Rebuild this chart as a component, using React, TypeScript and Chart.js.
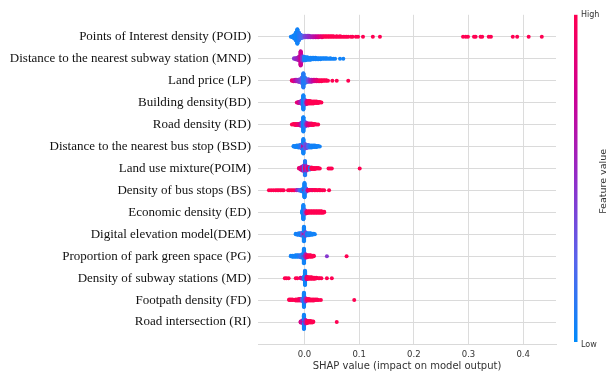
import React, { useEffect, useRef } from 'react';
import { Chart, registerables } from 'chart.js';

Chart.register(...registerables);

// ---------- DATA ----------
const FEATURES = [
  'Points of Interest density (POID)',
  'Distance to the nearest subway station (MND)',
  'Land price (LP)',
  'Building density(BD)',
  'Road density (RD)',
  'Distance to the nearest bus stop (BSD)',
  'Land use mixture(POIM)',
  'Density of bus stops (BS)',
  'Economic density (ED)',
  'Digital elevation model(DEM)',
  'Proportion of park green space (PG)',
  'Density of subway stations (MD)',
  'Footpath density (FD)',
  'Road intersection (RI)',
];

const X_TICKS = [0, 0.1, 0.2, 0.3, 0.4];
const X_TITLE = 'SHAP value (impact on model output)';
const CBAR_LOW = 'Low';
const CBAR_HIGH = 'High';
const CBAR_TITLE = 'Feature value';

// SHAP values (x), number of samples at that value, and normalised feature value (0 = low, 1 = high)
const POID_SHAP = [-0.025, -0.022, -0.019, -0.016, -0.013, -0.010, -0.007, -0.004, -0.001, 0.002, 0.005, 0.008, 0.011, 0.014, 0.017, 0.020, 0.023, 0.026, 0.029, 0.032, 0.035, 0.038, 0.041, 0.044, 0.047, 0.050, 0.053, 0.056, 0.059, 0.062, 0.065, 0.068, 0.071, 0.074, 0.077, 0.080, 0.085, 0.088, 0.094, 0.098, 0.107, 0.125, 0.138, 0.290, 0.295, 0.299, 0.310, 0.313, 0.322, 0.325, 0.337, 0.341, 0.381, 0.389, 0.410, 0.434];
const POID_COUNT = [1, 3, 7, 16, 30, 16, 8, 5, 4, 4, 4, 4, 3, 3, 3, 3, 3, 3, 2, 3, 2, 2, 2, 2, 2, 2, 2, 1, 2, 1, 2, 1, 1, 1, 1, 1, 1, 1, 1, 1, 1, 1, 1, 1, 1, 1, 1, 1, 1, 1, 1, 1, 1, 1, 1, 1];
const POID_FEAT = [0.05, 0.05, 0.05, 0.05, 0.05, 0.1, 0.15, 0.2, 0.3, 0.4, 0.45, 0.5, 0.55, 0.6, 0.65, 0.7, 0.75, 0.8, 0.85, 0.9, 0.95, 1, 1, 1, 1, 1, 1, 1, 1, 1, 1, 1, 1, 1, 1, 1, 1, 1, 1, 1, 1, 1, 1, 1, 1, 1, 1, 1, 1, 1, 1, 1, 1, 1, 1, 1];

const MND_SHAP = [-0.019, -0.016, -0.013, -0.010, -0.007, -0.004, -0.001, 0.002, 0.005, 0.008, 0.011, 0.014, 0.017, 0.020, 0.023, 0.026, 0.029, 0.032, 0.035, 0.038, 0.041, 0.044, 0.047, 0.050, 0.053, 0.056, 0.065, 0.071];
const MND_COUNT = [2, 3, 5, 8, 30, 10, 8, 7, 6, 5, 5, 4, 4, 4, 3, 3, 3, 2, 2, 2, 2, 1, 2, 1, 1, 1, 1, 1];
const MND_FEAT = [0.45, 0.5, 0.55, 0.6, 0.75, 0.5, 0.1, 0.05, 0.05, 0.05, 0.05, 0.05, 0.05, 0.05, 0.05, 0.05, 0.05, 0.05, 0.05, 0.05, 0.05, 0.05, 0.05, 0.05, 0.05, 0.05, 0.05, 0.05];

const LP_SHAP = [-0.023, -0.020, -0.017, -0.014, -0.011, -0.008, -0.005, -0.002, 0.001, 0.004, 0.007, 0.010, 0.013, 0.016, 0.019, 0.022, 0.025, 0.028, 0.031, 0.034, 0.037, 0.040, 0.043, 0.051, 0.059, 0.080];
const LP_COUNT = [2, 3, 4, 4, 5, 7, 12, 30, 12, 7, 6, 5, 5, 4, 4, 4, 3, 3, 3, 2, 2, 2, 1, 1, 1, 1];
const LP_FEAT = [0.9, 0.85, 0.7, 0.6, 0.5, 0.45, 0.3, 0.1, 0.1, 0.15, 0.35, 0.5, 0.6, 0.7, 0.8, 0.85, 0.9, 0.95, 1, 1, 1, 1, 1, 1, 1, 1];

const BD_SHAP = [-0.014, -0.011, -0.008, -0.005, -0.002, 0.001, 0.004, 0.007, 0.010, 0.013, 0.016, 0.019, 0.022, 0.025, 0.028, 0.031];
const BD_COUNT = [1, 3, 4, 8, 30, 10, 7, 6, 6, 5, 5, 4, 4, 3, 2, 1];
const BD_FEAT = [0.9, 0.8, 0.65, 0.4, 0.05, 0.2, 0.8, 0.95, 1, 1, 1, 1, 1, 1, 1, 1];

const RD_SHAP = [-0.023, -0.020, -0.017, -0.014, -0.011, -0.008, -0.005, -0.002, 0.001, 0.004, 0.007, 0.010, 0.013, 0.016, 0.019, 0.022, 0.025];
const RD_COUNT = [1, 2, 3, 3, 3, 5, 8, 30, 10, 6, 5, 4, 4, 3, 2, 1, 1];
const RD_FEAT = [1, 1, 1, 0.95, 0.9, 0.8, 0.4, 0.05, 0.15, 0.6, 0.8, 0.9, 0.95, 1, 1, 1, 1];

const BSD_SHAP = [-0.020, -0.017, -0.014, -0.011, -0.008, -0.005, -0.002, -0.002, 0.001, 0.004, 0.007, 0.010, 0.013, 0.016, 0.019, 0.022, 0.025, 0.028];
const BSD_COUNT = [2, 3, 4, 5, 6, 9, 10, 20, 10, 7, 6, 5, 5, 4, 4, 3, 2, 1];
const BSD_FEAT = [0.05, 0.05, 0.05, 0.05, 0.1, 0.2, 0.7, 0.05, 0.3, 0.4, 0.2, 0.1, 0.05, 0.05, 0.05, 0.05, 0.05, 0.05];

const POIM_SHAP = [-0.010, -0.007, -0.004, -0.001, 0.001, 0.001, 0.001, 0.004, 0.007, 0.010, 0.010, 0.013, 0.016, 0.019, 0.022, 0.025, 0.028, 0.044, 0.047, 0.050, 0.101];
const POIM_COUNT = [2, 5, 9, 12, 12, 10, 8, 9, 6, 3, 2, 4, 3, 3, 2, 2, 1, 1, 1, 1, 1];
const POIM_FEAT = [0.9, 0.85, 0.7, 0.2, 1, 0.6, 0.1, 0.5, 0.9, 1, 0.05, 1, 1, 1, 1, 1, 1, 1, 1, 1, 1];

const BS_SHAP = [-0.065, -0.061, -0.057, -0.053, -0.050, -0.047, -0.044, -0.041, -0.038, -0.030, -0.027, -0.024, -0.021, -0.018, -0.014, -0.011, -0.008, -0.005, -0.002, 0.000, 0.000, 0.003, 0.006, 0.009, 0.012, 0.015, 0.018, 0.021, 0.024, 0.027, 0.030, 0.033, 0.036, 0.045];
const BS_COUNT = [1, 1, 1, 1, 1, 1, 1, 1, 1, 1, 1, 1, 1, 1, 2, 2, 3, 5, 8, 6, 24, 8, 3, 2, 2, 2, 2, 2, 1, 2, 1, 1, 1, 1];
const BS_FEAT = [1, 1, 1, 1, 1, 1, 1, 1, 1, 1, 1, 1, 1, 1, 0.6, 0.4, 0.2, 0.1, 0.05, 0.6, 0.05, 0.2, 0.8, 1, 1, 0.9, 1, 1, 1, 1, 1, 1, 1, 1];

const ED_SHAP = [-0.004, -0.002, 0.001, 0.004, 0.007, 0.010, 0.013, 0.016, 0.019, 0.022, 0.025, 0.028, 0.031, 0.034, 0.036];
const ED_COUNT = [6, 30, 8, 5, 4, 4, 4, 4, 4, 4, 4, 4, 4, 3, 2];
const ED_FEAT = [0.05, 0.05, 0.3, 0.9, 1, 1, 1, 1, 1, 1, 1, 1, 1, 1, 1];

const DEM_SHAP = [-0.016, -0.013, -0.010, -0.007, -0.004, -0.001, -0.001, 0.002, 0.005, 0.008, 0.011, 0.014, 0.017, 0.019];
const DEM_COUNT = [2, 3, 4, 5, 7, 8, 22, 8, 5, 5, 4, 3, 2, 1];
const DEM_FEAT = [0.05, 0.05, 0.1, 0.05, 0.3, 0.85, 0.05, 0.4, 0.05, 0.1, 0.05, 0.05, 0.05, 0.05];

const PG_SHAP = [-0.025, -0.022, -0.019, -0.016, -0.013, -0.010, -0.007, -0.004, -0.001, -0.001, 0.002, 0.005, 0.008, 0.011, 0.014, 0.017, 0.041, 0.077];
const PG_COUNT = [2, 3, 3, 4, 4, 4, 5, 8, 6, 24, 8, 5, 4, 4, 3, 2, 1, 1];
const PG_FEAT = [0.05, 0.05, 0.05, 0.05, 0.05, 0.1, 0.15, 0.1, 0.8, 0.05, 0.6, 0.9, 1, 1, 1, 1, 0.45, 1];

const MD_SHAP = [-0.036, -0.033, -0.029, -0.016, -0.013, -0.007, -0.004, -0.001, 0.001, 0.001, 0.004, 0.007, 0.010, 0.013, 0.016, 0.019, 0.022, 0.026, 0.028, 0.031, 0.041, 0.050];
const MD_COUNT = [1, 1, 1, 1, 1, 2, 3, 6, 4, 26, 6, 4, 4, 4, 3, 3, 2, 1, 1, 1, 1, 1];
const MD_FEAT = [1, 1, 1, 1, 1, 0.9, 0.6, 0.1, 0.9, 0.05, 0.8, 1, 1, 1, 1, 1, 1, 1, 1, 1, 1, 1];

const FD_SHAP = [-0.028, -0.025, -0.022, -0.019, -0.016, -0.013, -0.010, -0.007, -0.004, -0.001, -0.001, 0.002, 0.005, 0.008, 0.011, 0.014, 0.017, 0.020, 0.023, 0.026, 0.030, 0.091];
const FD_COUNT = [2, 2, 2, 1, 3, 3, 4, 4, 6, 4, 26, 8, 4, 4, 3, 3, 3, 2, 2, 1, 1, 1];
const FD_FEAT = [1, 1, 1, 1, 1, 1, 0.95, 0.9, 0.3, 0.9, 0.05, 0.5, 1, 1, 1, 1, 1, 1, 1, 1, 1, 1];

const RI_SHAP = [-0.007, -0.004, -0.001, -0.001, 0.002, 0.005, 0.008, 0.011, 0.014, 0.016, 0.059];
const RI_COUNT = [3, 6, 6, 24, 8, 5, 4, 4, 3, 2, 1];
const RI_FEAT = [0.8, 0.6, 0.9, 0.05, 0.6, 1, 1, 1, 1, 1, 1];

const SERIES: [number[], number[], number[]][] = [
  [POID_SHAP, POID_COUNT, POID_FEAT],
  [MND_SHAP, MND_COUNT, MND_FEAT],
  [LP_SHAP, LP_COUNT, LP_FEAT],
  [BD_SHAP, BD_COUNT, BD_FEAT],
  [RD_SHAP, RD_COUNT, RD_FEAT],
  [BSD_SHAP, BSD_COUNT, BSD_FEAT],
  [POIM_SHAP, POIM_COUNT, POIM_FEAT],
  [BS_SHAP, BS_COUNT, BS_FEAT],
  [ED_SHAP, ED_COUNT, ED_FEAT],
  [DEM_SHAP, DEM_COUNT, DEM_FEAT],
  [PG_SHAP, PG_COUNT, PG_FEAT],
  [MD_SHAP, MD_COUNT, MD_FEAT],
  [FD_SHAP, FD_COUNT, FD_FEAT],
  [RI_SHAP, RI_COUNT, RI_FEAT],
];

// ---------- COLOUR MAP (shap red_blue) ----------
const CMAP_STOPS: [number, number[]][] = [
  [0, [0, 139, 251]],
  [0.25, [88, 100, 236]],
  [0.5, [145, 45, 200]],
  [0.75, [205, 0, 148]],
  [1, [255, 0, 82]],
];

function cmap(t: number): string {
  const v = Math.max(0, Math.min(1, t));
  for (let i = 0; i < CMAP_STOPS.length - 1; i++) {
    const [t0, c0] = CMAP_STOPS[i];
    const [t1, c1] = CMAP_STOPS[i + 1];
    if (v <= t1) {
      const f = (v - t0) / (t1 - t0);
      const c = c0.map((a, k) => Math.round(a + (c1[k] - a) * f));
      return `rgb(${c[0]},${c[1]},${c[2]})`;
    }
  }
  const c = CMAP_STOPS[CMAP_STOPS.length - 1][1];
  return `rgb(${c[0]},${c[1]},${c[2]})`;
}

// Beeswarm layout as in shap.summary_plot: stack samples sharing a value, alternating up/down
function buildPoints() {
  const pts: { x: number; y: number }[] = [];
  const cols: string[] = [];
  const n = FEATURES.length;
  SERIES.forEach(([xs, counts, feats], fi) => {
    const layers = new Map<number, number>();
    const raw: { x: number; ys: number; c: number }[] = [];
    xs.forEach((x, gi) => {
      for (let k = 0; k < counts[gi]; k++) {
        const layer = layers.get(x) ?? 0;
        layers.set(x, layer + 1);
        const ys = Math.ceil(layer / 2) * (layer % 2 === 1 ? 1 : -1);
        raw.push({ x, ys, c: feats[gi] });
      }
    });
    const maxY = Math.max(...raw.map((r) => r.ys + 1));
    const scale = (0.9 * 0.4) / maxY;
    const base = n - 1 - fi;
    raw.forEach((r) => {
      pts.push({ x: r.x, y: base + r.ys * scale });
      cols.push(cmap(r.c));
    });
  });
  return { pts, cols };
}

const overlayPlugin = {
  id: 'shapOverlay',
  afterDraw(chart: any) {
    const { ctx, chartArea } = chart;
    ctx.save();
    // x axis title
    ctx.fillStyle = '#333333';
    ctx.font = '10px "DejaVu Sans"';
    ctx.textAlign = 'center';
    ctx.textBaseline = 'middle';
    ctx.fillText(X_TITLE, (chartArea.left + chartArea.right) / 2, 366);
    // colour bar
    const top = chartArea.top;
    const bottom = chartArea.bottom - 2;
    const bx = 574;
    const g = ctx.createLinearGradient(0, bottom, 0, top);
    CMAP_STOPS.forEach(([t, c]) => g.addColorStop(t, `rgb(${c[0]},${c[1]},${c[2]})`));
    ctx.fillStyle = g;
    ctx.fillRect(bx, top, 3.5, bottom - top);
    ctx.fillStyle = '#333333';
    ctx.font = '8px "DejaVu Sans"';
    ctx.textAlign = 'left';
    ctx.fillText(CBAR_HIGH, bx + 7, top);
    ctx.fillText(CBAR_LOW, bx + 7, bottom + 3);
    ctx.font = '9.5px "DejaVu Sans"';
    ctx.translate(603.5, (top + bottom) / 2 + 3);
    ctx.rotate(-Math.PI / 2);
    ctx.textAlign = 'center';
    ctx.fillText(CBAR_TITLE, 0, 0);
    ctx.restore();
  },
};

export default function App() {
  const ref = useRef<HTMLCanvasElement>(null);
  useEffect(() => {
    if (!ref.current) return;
    const { pts, cols } = buildPoints();
    const n = FEATURES.length;
    const chart = new Chart(ref.current, {
      type: 'scatter',
      data: {
        datasets: [
          {
            data: pts,
            pointBackgroundColor: cols,
            pointBorderWidth: 0,
            pointRadius: 2,
            pointHoverRadius: 2,
          } as any,
        ],
      },
      options: {
        animation: false,
        responsive: false,
        devicePixelRatio: 1,
        events: [],
        layout: { padding: { top: 12, right: 59, left: 0, bottom: 0 } },
        plugins: { legend: { display: false }, tooltip: { enabled: false } },
        scales: {
          x: {
            type: 'linear',
            min: -0.085,
            max: 0.46,
            afterBuildTicks: (scale: any) => {
              scale.ticks = X_TICKS.map((v) => ({ value: v }));
            },
            afterFit: (scale: any) => {
              scale.height = 28;
            },
            ticks: {
              autoSkip: false,
              maxRotation: 0,
              padding: 6,
              color: '#333333',
              font: { family: '"DejaVu Sans"', size: 8.5 },
              callback: (v: any) => Number(v).toFixed(1),
            },
            grid: { color: '#dcdcdc', lineWidth: 1, drawTicks: false },
            border: { display: true, color: '#d9d9d9', width: 1 },
          },
          y: {
            type: 'linear',
            min: -1,
            max: n,
            afterBuildTicks: (scale: any) => {
              const t = [];
              for (let i = 0; i < n; i++) t.push({ value: i });
              scale.ticks = t;
            },
            afterFit: (scale: any) => {
              scale.width = 258;
            },
            ticks: {
              autoSkip: false,
              padding: 7,
              color: '#111111',
              font: { family: '"Liberation Serif"', size: 13 },
              callback: (v: any) => FEATURES[n - 1 - Number(v)],
            },
            grid: { color: '#dadada', lineWidth: 1, drawTicks: false },
            border: { display: false },
          },
        },
      },
      plugins: [overlayPlugin],
    } as any);
    return () => chart.destroy();
  }, []);
  return (
    <div style={{ position: 'fixed', left: 0, top: 0, width: 615, height: 372, background: '#fff' }}>
      <canvas ref={ref} width={615} height={372} style={{ display: 'block' }} />
    </div>
  );
}
